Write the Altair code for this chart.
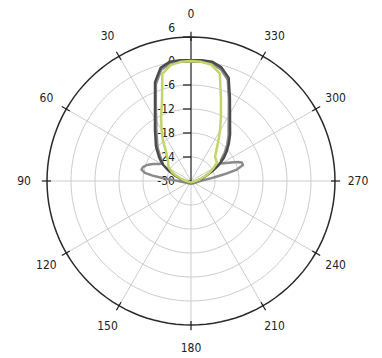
import altair as alt
import pandas as pd

# ---- data (dB vs azimuth in degrees, counter-clockwise from top) ----
dark_deg = [0, 5, 10, 15, 20, 25, 30, 35, 40, 45, 50, 55, 60, 65, 70, 80, 90, 100, 120, 150, 180,
            210, 240, 260, 270, 280, 290, 295, 300, 305, 310, 315, 320, 325, 330, 335, 340, 345, 350, 355, 360]
dark_db = [0.2, 0.3, 0.3, -0.7, -3.7, -8.7, -12.0, -14.3, -16.2, -17.6, -19.2, -20.5, -22.0, -23.8, -25.5, -27.5, -28.6, -29.1, -29.4, -29.5, -29.5,
           -29.5, -29.4, -29.1, -28.6, -27.5, -25.8, -24.0, -22.0, -20.0, -18.3, -16.6, -14.8, -13.0, -10.5, -7.0, -2.5, -0.6, 0.3, 0.3, 0.2]

gray_deg = [0, 5, 10, 15, 20, 25, 30, 35, 40, 45, 50, 55, 58, 62, 66, 70, 74, 77, 80, 82, 84, 86, 90, 100, 120, 150, 180,
            210, 240, 260, 270, 275, 278, 280, 282, 284, 287, 290, 292, 295, 300, 305, 310, 315, 320, 325, 330, 335, 340, 345, 350, 355, 360]
gray_db = [-0.2, -0.1, -0.2, -1.2, -4.3, -9.2, -12.6, -14.9, -16.8, -18.2, -19.8, -21.0, -21.6, -21.0, -19.6, -18.3, -17.5, -17.3, -18.3, -20.3, -22.8, -25.0, -26.8, -28.3, -29.0, -29.3, -29.4,
           -29.3, -29.0, -28.4, -27.8, -26.5, -24.8, -23.2, -20.8, -18.2, -16.4, -16.5, -17.3, -19.0, -21.3, -20.8, -19.0, -17.2, -15.4, -13.6, -11.1, -7.6, -3.1, -1.1, -0.1, -0.1, -0.2]

green_deg = [0, 5, 10, 15, 20, 25, 30, 35, 40, 45, 50, 55, 60, 65, 70, 80, 90, 100, 120, 150, 180,
             210, 240, 260, 270, 280, 290, 295, 300, 305, 310, 315, 320, 325, 330, 335, 340, 345, 350, 355, 360]
green_db = [0.0, -0.1, -0.6, -2.3, -8.8, -12.3, -15.3, -17.8, -20.3, -21.6, -22.5, -23.0, -23.8, -24.8, -26.0, -27.8, -28.8, -29.2, -29.5, -29.6, -29.6,
            -29.6, -29.5, -29.2, -28.8, -27.8, -26.0, -24.8, -23.5, -22.1, -21.8, -21.5, -20.2, -18.2, -15.5, -12.3, -8.1, -2.2, -0.5, -0.1, 0.0]

series_names = ["gray", "dark", "green"]
series_colors = ["#8a8a8a", "#4b4b4b", "#c3d568"]

ring_values = [-24, -18, -12, -6, 0]
radial_tick_values = [-30, -24, -18, -12, -6, 0, 6]
radial_tick_labels = ["-30", "-24", "-18", "-12", "-6", "0", "6"]
angle_ticks = [0, 30, 60, 90, 120, 150, 180, 210, 240, 270, 300, 330]
angle_labels = ["0", "30", "60", "90", "120", "150", "180", "210", "240", "270", "300", "330"]

RMIN = -30
RMAX = 6
FONT = "DejaVu Sans Condensed, Liberation Sans Narrow, Arial Narrow, sans-serif"

# ---- tables ----
rows = []
for name, degs, vals in [("gray", gray_deg, gray_db), ("dark", dark_deg, dark_db), ("green", green_deg, green_db)]:
    for i, (d, v) in enumerate(zip(degs, vals)):
        rows.append({"series": name, "deg": d, "db": v, "i": i})
curves = pd.DataFrame(rows)

grid_deg = list(range(0, 361, 3))
ring_rows = [{"ring": rv, "deg": d} for rv in ring_values + [RMAX] for d in grid_deg]
rings = pd.DataFrame(ring_rows)

spokes = pd.DataFrame({"deg": angle_ticks, "label": angle_labels})
rticks = pd.DataFrame({"v": radial_tick_values, "label": radial_tick_labels})

xs = alt.Scale(domain=[-45.75, 45.25], nice=False, zero=False)
ys = alt.Scale(domain=[-43.75, 43.25], nice=False, zero=False)
X = lambda f: alt.X(f, type="quantitative", scale=xs, axis=None)
Y = lambda f: alt.Y(f, type="quantitative", scale=ys, axis=None)

# grid rings
ring_layer = alt.Chart(rings).transform_filter(
    alt.datum.ring < RMAX
).transform_calculate(
    x=-(alt.datum.ring - RMIN) * alt.expr.sin(alt.datum.deg * alt.expr.PI / 180),
    y=(alt.datum.ring - RMIN) * alt.expr.cos(alt.datum.deg * alt.expr.PI / 180),
).mark_line(stroke="#cdcdcd", strokeWidth=1).encode(
    x=X("x"), y=Y("y"), detail="ring:N", order="deg:Q"
)

outer_layer = alt.Chart(rings).transform_filter(
    alt.datum.ring == RMAX
).transform_calculate(
    x=-(alt.datum.ring - RMIN) * alt.expr.sin(alt.datum.deg * alt.expr.PI / 180),
    y=(alt.datum.ring - RMIN) * alt.expr.cos(alt.datum.deg * alt.expr.PI / 180),
).mark_line(stroke="#2a2a2a", strokeWidth=1.5).encode(
    x=X("x"), y=Y("y"), order="deg:Q"
)

# spokes
spoke_layer = alt.Chart(spokes).transform_filter(
    alt.datum.deg != 0
).transform_calculate(
    x0="0", y0="0",
    x1=-(RMAX - RMIN) * alt.expr.sin(alt.datum.deg * alt.expr.PI / 180),
    y1=(RMAX - RMIN) * alt.expr.cos(alt.datum.deg * alt.expr.PI / 180),
).mark_rule(stroke="#cdcdcd", strokeWidth=1).encode(
    x=X("x0"), y=Y("y0"), x2="x1:Q", y2="y1:Q"
)

axis_line = alt.Chart(spokes).transform_filter(
    alt.datum.deg == 0
).transform_calculate(
    x0="0", y0="0", y1=str(RMAX - RMIN)
).mark_rule(stroke="#1e1e1e", strokeWidth=1.2).encode(
    x=X("x0"), y=Y("y0"), y2="y1:Q"
)

# angular ticks on outer circle
aticks = alt.Chart(spokes).transform_calculate(
    xa=-(RMAX - RMIN - 1.0) * alt.expr.sin(alt.datum.deg * alt.expr.PI / 180),
    ya=(RMAX - RMIN - 1.0) * alt.expr.cos(alt.datum.deg * alt.expr.PI / 180),
    xb=-(RMAX - RMIN + 1.3) * alt.expr.sin(alt.datum.deg * alt.expr.PI / 180),
    yb=(RMAX - RMIN + 1.3) * alt.expr.cos(alt.datum.deg * alt.expr.PI / 180),
).mark_rule(stroke="#1e1e1e", strokeWidth=1.2).encode(
    x=X("xa"), y=Y("ya"), x2="xb:Q", y2="yb:Q"
)

alabels = alt.Chart(spokes).transform_calculate(
    xl=-41.75 * alt.expr.sin(alt.datum.deg * alt.expr.PI / 180),
    yl=41.75 * alt.expr.cos(alt.datum.deg * alt.expr.PI / 180),
).mark_text(font=FONT, fontSize=12, color="#222222", align="center", baseline="middle").encode(
    x=X("xl"), y=Y("yl"), text="label:N"
)

# radial ticks & labels
rtick_layer = alt.Chart(rticks).transform_calculate(
    xa="-2", xb="0", yv=alt.datum.v - RMIN
).mark_rule(stroke="#1e1e1e", strokeWidth=1.2).encode(
    x=X("xa"), x2="xb:Q", y=Y("yv")
)

rlabel_layer = alt.Chart(rticks).transform_calculate(
    xl="-4", yv=alt.datum.v - RMIN + alt.expr.if_(alt.datum.v == RMAX, 2.2, 0)
).mark_text(font=FONT, fontSize=12, color="#222222", align="right", baseline="middle").encode(
    x=X("xl"), y=Y("yv"), text="label:N"
)

# pattern curves
curve_layer = alt.Chart(curves).transform_calculate(
    r=alt.expr.max(alt.datum.db - RMIN, 0),
).transform_calculate(
    x=-alt.datum.r * alt.expr.sin(alt.datum.deg * alt.expr.PI / 180),
    y=alt.datum.r * alt.expr.cos(alt.datum.deg * alt.expr.PI / 180),
).mark_line(strokeWidth=2.5, interpolate="linear", strokeJoin="round").encode(
    x=X("x"), y=Y("y"),
    color=alt.Color("series:N", scale=alt.Scale(domain=series_names, range=series_colors), legend=None),
    detail="series:N",
    order=alt.Order("i:Q"),
)

chart = alt.layer(
    ring_layer, spoke_layer, rlabel_layer, rtick_layer, axis_line,
    curve_layer, outer_layer, aticks, alabels
).properties(
    width=364, height=348, padding=0,
    autosize=alt.AutoSizeParams(type="none")
).configure_view(stroke=None)

chart.save("out.html", embed_options={"renderer": "svg", "actions": False})
